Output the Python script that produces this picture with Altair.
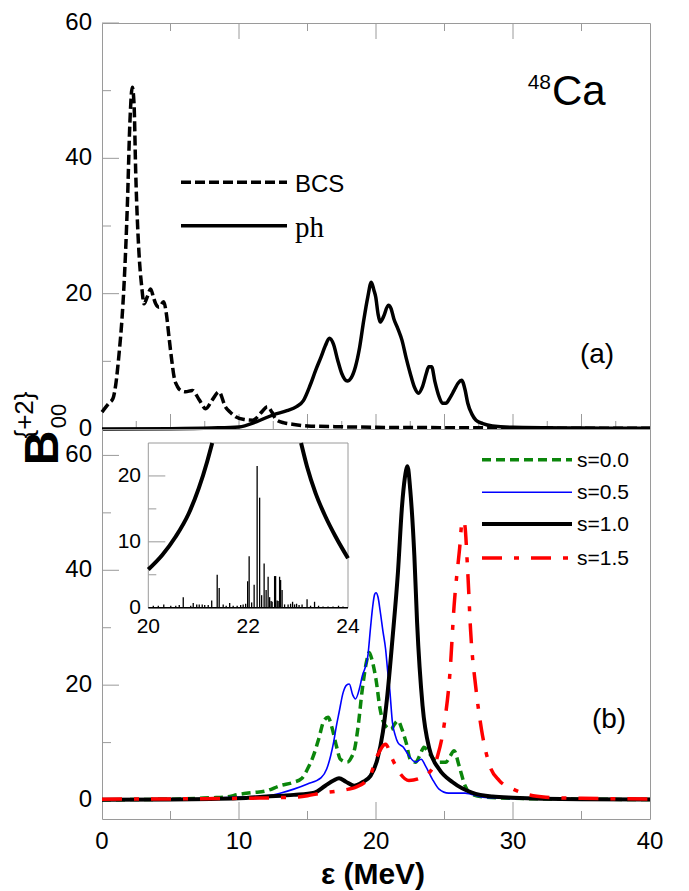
import altair as alt
import pandas as pd

# ---------------- data ----------------
bcs_x = [0, 0.5, 0.8, 1.0, 1.24, 1.45, 1.6, 1.85, 2.04, 2.21, 2.34, 2.46, 2.7, 2.9, 3.07, 3.3, 3.55,
         3.75, 3.92, 4.16, 4.5, 4.7, 4.89, 5.1, 5.26, 5.5, 5.74, 6.1, 6.6, 7.1, 7.57, 8.05, 8.54, 9.0,
         9.4, 9.76, 10.4, 11.0, 11.7, 12.07, 12.4, 12.7, 13.3, 13.9, 15, 17, 20, 25, 30, 40]
bcs_y = [2.5, 3.8, 4.5, 6.5, 11, 16, 21, 33, 45.5, 50.5, 48, 38, 26, 21, 18.5, 19.5, 20.7,
         19.5, 18.5, 18, 18.8, 17, 13.6, 10, 7.7, 6.3, 5.7, 5.5, 5.7, 4.3, 3.0, 4.3, 5.5, 3.3,
         2.4, 1.8, 1.4, 1.3, 2.6, 3.3, 2.5, 1.4, 0.9, 0.7, 0.45, 0.35, 0.25, 0.2, 0.15, 0.1]

ph_x = [0, 5, 8, 10, 11.3, 12.5, 13.5, 14.2, 14.7, 15.2, 15.6, 16.0, 16.3, 16.6, 16.9, 17.2, 17.5,
        17.9, 18.2, 18.5, 18.8, 19.1, 19.4, 19.66, 19.85, 19.98, 20.15, 20.3, 20.55, 20.9, 21.1,
        21.3, 21.6, 21.9, 22.2, 22.5, 22.8, 23.1, 23.4, 23.67, 23.85, 24.06, 24.3, 24.6, 24.85,
        25.1, 25.4, 25.7, 26.0, 26.25, 26.5, 26.7, 27.0, 27.3, 27.8, 28.5, 30, 35, 40]
ph_y = [0, 0.05, 0.15, 0.3, 1.1, 2.1, 2.7, 3.3, 4.2, 6.5, 8.7, 10.7, 12.3, 13.4, 12.5, 10.2, 8.2,
        7.1, 7.6, 9.2, 12, 16, 19.5, 21.7, 20.5, 19.5, 17, 15.8, 16.6, 18.3, 17.8,
        16.3, 14.8, 13.1, 10.5, 8.2, 6.2, 5.3, 6.3, 8.2, 9.2, 9.2, 7, 4.8, 3.8,
        3.8, 4.6, 5.7, 6.8, 7.2, 5.8, 3.8, 2.2, 1.3, 0.8, 0.45, 0.25, 0.15, 0.1]

s00_x = [0, 5, 8, 9, 10, 11, 12, 13, 14, 14.6, 15.0, 15.4, 15.8, 16.2, 16.5, 16.8, 17.1, 17.4,
         17.9, 18.2, 18.45, 18.7, 19.0, 19.3, 19.5, 19.75, 20.0, 20.3, 20.7, 21.1, 21.35, 21.6,
         21.9, 22.2, 22.5, 22.9, 23.2, 23.5, 23.8, 24.0, 24.5, 25.1, 25.4, 25.7, 26.06, 26.5,
         27.0, 28, 30, 35, 40]
s00_y = [0.05, 0.15, 0.4, 0.5, 1.0, 1.3, 1.6, 2.5, 3.1, 3.8, 5.4, 7.5, 10.5, 13.8, 14.4, 12.5,
         9.5, 7.1, 6.6, 7.4, 9.0, 12.9, 19.3, 24, 25.7, 24, 21, 15.8, 12.9, 12.3, 13.2, 13.8,
         12.3, 10, 7.1, 6.6, 7.8, 9.2, 8.4, 7.8, 6.6, 6.6, 7.6, 8.6, 6, 2.5,
         1.0, 0.5, 0.3, 0.15, 0.1]

s05_x = [0, 5, 8, 10, 12, 13, 14, 15, 16, 16.4, 16.7, 16.9, 17.1, 17.3, 17.6, 17.85, 18.05, 18.3,
         18.5, 18.8, 19.0, 19.2, 19.4, 19.6, 19.75, 19.9, 20.0, 20.15, 20.3, 20.5, 20.7, 20.85,
         21.0, 21.2, 21.4, 21.6, 22.0, 22.4, 22.9, 23.3, 23.6, 24.1, 24.6, 25.3, 26.5, 27.8,
         30, 35, 40]
s05_y = [0.05, 0.1, 0.3, 0.5, 0.75, 1.2, 1.9, 2.8, 3.9, 5.4, 7.8, 10, 12.8, 15.2, 18.7, 20.0,
         20.2, 18.3, 17.6, 19.5, 21.6, 23, 25, 30, 33.5, 35.8, 36.1, 35.3, 33, 29.5, 26.3, 22.5,
         19.3, 13.5, 11.3, 10, 9.2, 7.7, 6.6, 7.1, 6, 3.7, 1.9, 1.2, 1.2, 0.5,
         0.25, 0.12, 0.08]

s10_x = [0, 5, 10, 12, 14, 15.5, 16.3, 16.9, 17.3, 17.8, 18.4, 19.0, 19.6, 20.1, 20.5, 20.8, 21.2,
         21.6, 21.9, 22.1, 22.3, 22.5, 22.8, 23.0, 23.4, 23.9, 24.6, 25.6, 27.0, 28.5, 30, 35, 40]
s10_y = [0.05, 0.1, 0.3, 0.6, 0.9, 1.3, 2.5, 3.4, 3.8, 3.2, 2.5, 3.1, 4.2, 7.1, 11.8, 17.6, 28,
         39.6, 51.2, 56, 58.1, 54, 42.5, 30.9, 16.4, 8.9, 5.4, 3.1, 1.3, 0.6, 0.4, 0.15, 0.1]

s15_x = [0, 5, 10, 14, 15, 16, 17, 18, 18.5, 19.5, 20.1, 20.7, 21.2, 21.8, 22.4, 23.1, 23.9, 24.5,
         25.0, 25.4, 25.7, 26.1, 26.3, 26.45, 26.7, 26.9, 27.3, 27.7, 28.3, 29.0, 30.0, 31.0,
         32.4, 35, 40]
s15_y = [0.15, 0.2, 0.3, 0.5, 0.75, 1.2, 1.5, 1.9, 2.2, 3.9, 7.7, 9.7, 7.1, 4.5, 3.4, 3.7, 4.8, 7.7,
         13.5, 22.2, 33.8, 43.7, 48.6, 48.3, 39.6, 29.7, 19.3, 12.3, 6, 3.4, 1.9, 1.0,
         0.5, 0.3, 0.2]

# inset: s=1.0 strength function (two branches leaving the frame) and stick spectrum
in_left_x = [20.0, 20.28, 20.55, 20.81, 21.01, 21.18, 21.28]
in_left_y = [5.8, 8.0, 10.8, 14.3, 18.1, 22.2, 25.0]
in_right_x = [23.06, 23.18, 23.35, 23.55, 23.75, 24.0]
in_right_y = [25.0, 21.4, 17.4, 13.8, 10.8, 7.5]

stick_x = [20.1, 20.2, 20.31, 20.45, 20.55, 20.62, 20.70, 20.85, 20.9, 20.97, 21.02, 21.08, 21.13,
           21.2, 21.27, 21.38, 21.42, 21.5, 21.56, 21.63, 21.7, 21.78, 21.85, 21.9, 21.95, 21.99,
           22.02, 22.07, 22.12, 22.18, 22.23, 22.27, 22.32, 22.36, 22.4, 22.43, 22.46, 22.48,
           22.53, 22.55, 22.58, 22.6, 22.63, 22.65, 22.68, 22.73, 22.8, 22.85, 22.89, 22.93,
           22.97, 23.02, 23.08, 23.18, 23.25, 23.33, 23.41, 23.5, 23.6, 23.7, 23.81, 23.9]
stick_h = [0.3, 0.3, 0.5, 0.3, 0.3, 0.4, 1.6, 0.3, 0.7, 0.5, 0.5, 0.5, 0.4,
           0.4, 1.1, 5.0, 3.0, 0.5, 0.3, 0.7, 0.3, 0.3, 0.4, 0.5, 0.6, 4.0,
           7.8, 0.8, 3.5, 21.5, 16.7, 1.9, 6.7, 2.7, 4.7, 1.6, 1.0, 0.9,
           4.8, 4.8, 1.1, 1.0, 4.7, 4.2, 2.7, 0.5, 0.5, 0.6, 0.9, 0.5,
           0.6, 0.4, 0.5, 1.3, 0.3, 0.9, 0.3, 0.2, 0.2, 0.2, 0.3, 0.2]

x_labels = [0, 10, 20, 30, 40]
y_labels = [0, 20, 40, 60]
inset_x_labels = [20, 22, 24]
inset_y_labels = [0, 10, 20]
legend_a = ["BCS", "ph"]
legend_b = ["s=0.0", "s=0.5", "s=1.0", "s=1.5"]

# ---------------- styling / layout ----------------
W, H1, H2 = 548, 406, 390
FONT = "Liberation Sans"
GRAY = "#9a9a9a"
GREEN = "#0b860b"
BLUE = "#0000ff"
RED = "#ff0000"

xs = alt.Scale(domain=[0, 40], nice=False, zero=False)
ys1 = alt.Scale(domain=[0, 60], nice=False, zero=False)
ys2 = alt.Scale(domain=[-3.3, 64.6], nice=False, zero=False)
isx = alt.Scale(domain=[20, 24], range=[46.3, 246], nice=False, zero=False)
isy = alt.Scale(domain=[0, 25], range=[178.7, 14], nice=False, zero=False)


def curve(xv, yv, ys, color, width, dash=None):
    df = pd.DataFrame({"x": xv, "y": yv})
    kw = dict(color=color, strokeWidth=width, interpolate="monotone")
    if dash:
        kw["strokeDash"] = dash
    return alt.Chart(df).mark_line(**kw).encode(
        x=alt.X("x:Q", scale=xs, axis=None),
        y=alt.Y("y:Q", scale=ys, axis=None),
    )


def yticks(vals, ys, length, x0=0.0):
    df = pd.DataFrame({"v": vals})
    return alt.Chart(df).mark_rule(color=GRAY, strokeWidth=1).encode(
        y=alt.Y("v:Q", scale=ys, axis=None), x=alt.value(x0), x2=alt.value(x0 + length))


def xticks(vals, y0, y1):
    df = pd.DataFrame({"v": vals})
    return alt.Chart(df).mark_rule(color=GRAY, strokeWidth=1).encode(
        x=alt.X("v:Q", scale=xs, axis=None), y=alt.value(y0), y2=alt.value(y1))


def ylabels(vals, ys, x, size=24):
    df = pd.DataFrame({"v": vals})
    return alt.Chart(df).mark_text(align="right", baseline="middle", font=FONT, fontSize=size,
                                   color="black").encode(
        y=alt.Y("v:Q", scale=ys, axis=None), x=alt.value(x), text="v:Q")


def xlabels(vals, scale, y, size=24):
    df = pd.DataFrame({"v": vals})
    return alt.Chart(df).mark_text(align="center", baseline="middle", font=FONT, fontSize=size,
                                   color="black").encode(
        x=alt.X("v:Q", scale=scale, axis=None), y=alt.value(y), text="v:Q")


def text(t, x, y, size, align="left", baseline="middle", font=FONT, weight="normal", angle=0):
    df = pd.DataFrame({"t": [t]})
    return alt.Chart(df).mark_text(align=align, baseline=baseline, font=font, fontSize=size,
                                   fontWeight=weight, angle=angle, color="black").encode(
        x=alt.value(x), y=alt.value(y), text="t:N")


def legline(x1, x2, y, color, width, dash=None):
    df = pd.DataFrame({"k": [0]})
    kw = dict(color=color, strokeWidth=width)
    if dash:
        kw["strokeDash"] = dash
    return alt.Chart(df).mark_rule(**kw).encode(x=alt.value(x1), x2=alt.value(x2), y=alt.value(y))


# ---------------- panel (a) ----------------
top = alt.layer(
    yticks([0, 20, 40, 60], ys1, 17),
    yticks([10, 30, 50], ys1, 9),
    xticks([10, 20, 30], 0, 16),
    xticks([5, 15, 25, 35], 0, 8),
    xticks([5, 10, 15, 20, 25, 30, 35], H1, H1 - 15),
    xticks([2.5, 7.5, 12.5, 17.5, 22.5, 27.5, 32.5, 37.5], H1, H1 - 8),
    ylabels(y_labels, ys1, -10),
    curve(bcs_x, bcs_y, ys1, "black", 3.5, [10, 4]),
    curve(ph_x, ph_y, ys1, "black", 3.5),
    legline(79, 185, 159.3, "black", 3.5, [10, 4]),
    legline(79, 185, 202.7, "black", 3.5),
    text(legend_a[0], 193, 161.5, 24),
    text(legend_a[1], 193, 213.5, 29, baseline="alphabetic", font="Liberation Serif"),
    text("48", 449, 66, 21, align="right", baseline="alphabetic"),
    text("Ca", 450, 82, 42, baseline="alphabetic"),
    text("(a)", 495, 332, 28, align="center"),
).properties(width=W, height=H1)

# ---------------- panel (b) ----------------
leg_y = [30.7, 63.3, 95, 129]
main_b = alt.layer(
    yticks([0, 20, 40, 60], ys2, 17),
    yticks([10, 30, 50], ys2, 9),
    xticks([10, 20, 30], H2, H2 - 17),
    xticks([5, 15, 25, 35], H2, H2 - 8),
    ylabels(y_labels, ys2, -10),
    xlabels(x_labels, xs, H2 + 22.5),
    curve(s00_x, s00_y, ys2, GREEN, 3.5, [9, 5]),
    curve(s05_x, s05_y, ys2, BLUE, 1.6),
    curve(s10_x, s10_y, ys2, "black", 4),
    curve(s15_x, s15_y, ys2, RED, 3.5, [20, 12, 5, 12]),
    legline(380, 470, leg_y[0], GREEN, 3.5, [9, 5]),
    legline(380, 470, leg_y[1], BLUE, 1.6),
    legline(380, 470, leg_y[2], "black", 4),
    legline(380, 470, leg_y[3], RED, 3.5, [20, 12, 5, 12]),
    text(legend_b[0], 475, leg_y[0] + 1, 21),
    text(legend_b[1], 475, leg_y[1] + 1, 21),
    text(legend_b[2], 475, leg_y[2] + 1, 21),
    text(legend_b[3], 475, leg_y[3] + 1, 21),
    text("(b)", 507, 291, 28, align="center"),
    text("ε (MeV)", 271, 446, 30, align="center", weight="bold"),
    text("B", -58, 19, 48, align="center", weight="bold", angle=270),
    text("00", -43, -13, 22, align="center", angle=270),
    text("{+2}", -77, -14, 26, align="center", angle=270),
)

frame_df = pd.DataFrame({"x1": [20], "x2": [24], "y1": [0], "y2": [25]})
frame = alt.Chart(frame_df).mark_rect(fill="white", stroke=GRAY, strokeWidth=1).encode(
    x=alt.X("x1:Q", scale=isx, axis=None), x2="x2:Q",
    y=alt.Y("y1:Q", scale=isy, axis=None), y2="y2:Q")

in_df = pd.DataFrame({
    "x": in_left_x + in_right_x,
    "y": in_left_y + in_right_y,
    "b": ["l"] * len(in_left_x) + ["r"] * len(in_right_x),
})
in_curve = alt.Chart(in_df).mark_line(color="black", strokeWidth=4, interpolate="monotone").encode(
    x=alt.X("x:Q", scale=isx, axis=None), y=alt.Y("y:Q", scale=isy, axis=None), detail="b:N")

st_df = pd.DataFrame({"x": stick_x, "h": stick_h, "z": [0.0] * len(stick_x)})
sticks = alt.Chart(st_df).mark_rule(color="black", strokeWidth=1.3).encode(
    x=alt.X("x:Q", scale=isx, axis=None), y=alt.Y("z:Q", scale=isy, axis=None), y2="h:Q")

base_df = pd.DataFrame({"a": [20.0], "b": [24.0], "z": [0.0]})
baseline = alt.Chart(base_df).mark_rule(color="black", strokeWidth=1.5).encode(
    x=alt.X("a:Q", scale=isx, axis=None), x2="b:Q", y=alt.Y("z:Q", scale=isy, axis=None))

in_ytick_major = alt.Chart(pd.DataFrame({"v": inset_y_labels})).mark_rule(color=GRAY).encode(
    y=alt.Y("v:Q", scale=isy, axis=None), x=alt.value(46.3), x2=alt.value(63.3))
in_ytick_minor = alt.Chart(pd.DataFrame({"v": [5, 15]})).mark_rule(color=GRAY).encode(
    y=alt.Y("v:Q", scale=isy, axis=None), x=alt.value(46.3), x2=alt.value(54.3))
in_ylab = ylabels(inset_y_labels, isy, 39, 21)
in_xlab = xlabels(inset_x_labels, isx, 197.5, 21)

inset = alt.layer(frame, in_ytick_major, in_ytick_minor, sticks, baseline, in_curve, in_ylab, in_xlab)

bottom = alt.layer(main_b, inset).resolve_scale(x="independent", y="independent").properties(
    width=W, height=H2)

chart = alt.vconcat(top, bottom, spacing=0, bounds="flush").properties(
    padding={"left": 3, "top": 2, "right": 5, "bottom": 5}
).configure(font=FONT).configure_view(stroke=GRAY, strokeWidth=1)

chart.save("out.html", embed_options={"renderer": "svg", "actions": False})
